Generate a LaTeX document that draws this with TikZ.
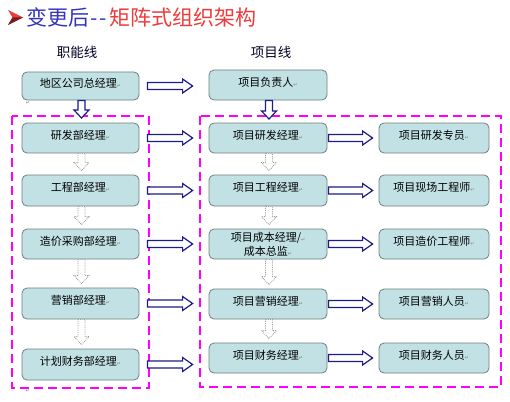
\documentclass[tikz,border=0pt]{standalone}
\usepackage{fontspec}
\setmainfont{Noto Sans CJK SC}
\newfontfamily\symfont{DejaVu Sans}
\usetikzlibrary{calc}

\definecolor{boxfill}{HTML}{C2E1E4}
\definecolor{boxline}{HTML}{6F7F80}
\definecolor{arrblue}{HTML}{1C1C8C}
\definecolor{framemag}{HTML}{FF00FF}
\definecolor{titleblue}{HTML}{3434BC}
\definecolor{titlered}{HTML}{EE3B3B}

\newcommand{\retmark}{{\symfont\fontsize{5}{5}\selectfont\textcolor{gray}{↵}}}
\newcommand{\boxtext}[1]{\raisebox{3pt}[\height][\depth]{#1\retmark}}

% hollow arrow to the right: from, to, gap at start, gap at tip
\newcommand{\harr}[4]{%
  \draw[bluearr] let \p1=($(#1.east)+(#3,0)$), \p2=($(#2.west)-(#4,0)$) in
    (\x1,\y1+3.5pt) -- (\x2-10pt,\y1+3.5pt) -- (\x2-10pt,\y1+7pt) -- (\x2,\y1)
    -- (\x2-10pt,\y1-7pt) -- (\x2-10pt,\y1-3.5pt) -- (\x1,\y1-3.5pt) -- cycle;}
% hollow arrow downwards: style, start point, tip point
\newcommand{\varr}[3]{%
  \draw[#1] let \p1=(#2), \p2=(#3) in
    (\x1-3.5pt,\y1) -- (\x1-3.5pt,\y2+8pt) -- (\x1-7.5pt,\y2+8pt) -- (\x1,\y2)
    -- (\x1+7.5pt,\y2+8pt) -- (\x1+3.5pt,\y2+8pt) -- (\x1+3.5pt,\y1) -- cycle;}

\tikzset{
  orgbox/.style={draw=boxline,fill=boxfill,rounded corners=5pt,line width=0.8pt,
    minimum height=30pt,inner sep=1pt,font=\fontsize{11}{13}\selectfont},
  leftbox/.style={orgbox,minimum width=117pt},
  midbox/.style={orgbox,minimum width=118pt},
  rightbox/.style={orgbox,minimum width=110pt},
  bluearr/.style={draw=arrblue,fill=white,line width=1.2pt},
  grayarr/.style={draw=gray!80,fill=white,densely dotted,line width=0.8pt},
  frame/.style={draw=framemag,line width=2.5pt,dash pattern=on 9pt off 5pt},
  colhead/.style={font=\fontsize{13.5}{15}\selectfont,text=black!85!blue}
}

\begin{document}
\begin{tikzpicture}[x=1pt,y=-1pt]
  \fill[white] (0,0) rectangle (510,401);
  \useasboundingbox (0,0) rectangle (510,401);

  % title
  \fill[titlered] (8,10) -- (23,17.5) -- (8,25) -- (12.5,17.5) -- cycle;
  \fill[titlered!50!black] (8,25) -- (23,17.5) -- (12.5,17.5) -- cycle;
  \node[anchor=west,inner sep=0pt,font=\fontsize{21}{22}\selectfont] (title) at (26,17)
    {\textcolor{titleblue}{变更后\kern1pt-\kern2pt-\kern3pt}\textcolor{titlered}{矩阵式组织架构}};
  \node[colhead] (hleft) at (77,52) {职能线};
  \node[colhead] (hright) at (271,52) {项目线};

  % dashed frames
  \draw[frame] (12,116) rectangle (149,388);
  \draw[frame] (200,116) rectangle (501,387);

  % function line
  \node[leftbox,minimum height=28pt] (l1) at (80.5,86) {\boxtext{地区公司总经理}};
  \node[leftbox] (l2) at (80.5,138) {\boxtext{研发部经理}};
  \node[leftbox,minimum height=31pt] (l3) at (80.5,190.5) {\boxtext{工程部经理}};
  \node[leftbox] (l4) at (80.5,244) {\boxtext{造价采购部经理}};
  \node[leftbox,minimum height=31pt] (l5) at (80.5,303.5) {\boxtext{营销部经理}};
  \node[leftbox,minimum height=31pt] (l6) at (80.5,364.5) {\boxtext{计划财务部经理}};

  % project line
  \node[midbox] (m0) at (268,85) {\boxtext{项目负责人}};
  \node[midbox] (m1) at (268,138) {\boxtext{项目研发经理}};
  \node[midbox,minimum height=31pt] (m2) at (268,190.5) {\boxtext{项目工程经理}};
  \node[midbox,align=center,font=\fontsize{11}{14}\selectfont] (m3) at (268,244)
    {项目成本经理/\retmark\\成本总监\retmark};
  \node[midbox] (m4) at (268,304) {\boxtext{项目营销经理}};
  \node[midbox] (m5) at (268,358) {\boxtext{项目财务经理}};

  \node[rightbox] (r1) at (434,138) {\boxtext{项目研发专员}};
  \node[rightbox,minimum height=31pt] (r2) at (434,190.5) {\boxtext{项目现场工程师}};
  \node[rightbox] (r3) at (434,244) {\boxtext{项目造价工程师}};
  \node[rightbox] (r4) at (434,304) {\boxtext{项目营销人员}};
  \node[rightbox] (r5) at (434,358) {\boxtext{项目财务人员}};

  % stray paragraph marks
  \node[inner sep=0pt] (pm1) at (28,103) {\retmark};
  \node[inner sep=0pt] (pm2) at (28,391) {\retmark};

  % arrows between the lines
  \foreach \from/\to in {l1/m0, l2/m1, l3/m2, l4/m3, l5/m4, l6/m5}
    \harr{\from}{\to}{8pt}{16pt};
  \foreach \from/\to in {m1/r1, m2/r2, m3/r3, m4/r4, m5/r5}
    \harr{\from}{\to}{1pt}{6pt};

  % arrows down the columns
  \coordinate (ltip) at (81,118);
  \coordinate (mtip) at (269,119);
  \varr{bluearr}{$(l1.south)+(1,0)$}{ltip};
  \varr{bluearr}{$(m0.south)+(1,0)$}{mtip};
  \foreach \from/\to in {l2/l3, l3/l4, l4/l5, l5/l6, m1/m2, m2/m3, m3/m4, m4/m5}
    \varr{grayarr}{$(\from.south)+(1,0)$}{$(\to.north)+(1,-4)$};
\end{tikzpicture}
\end{document}
